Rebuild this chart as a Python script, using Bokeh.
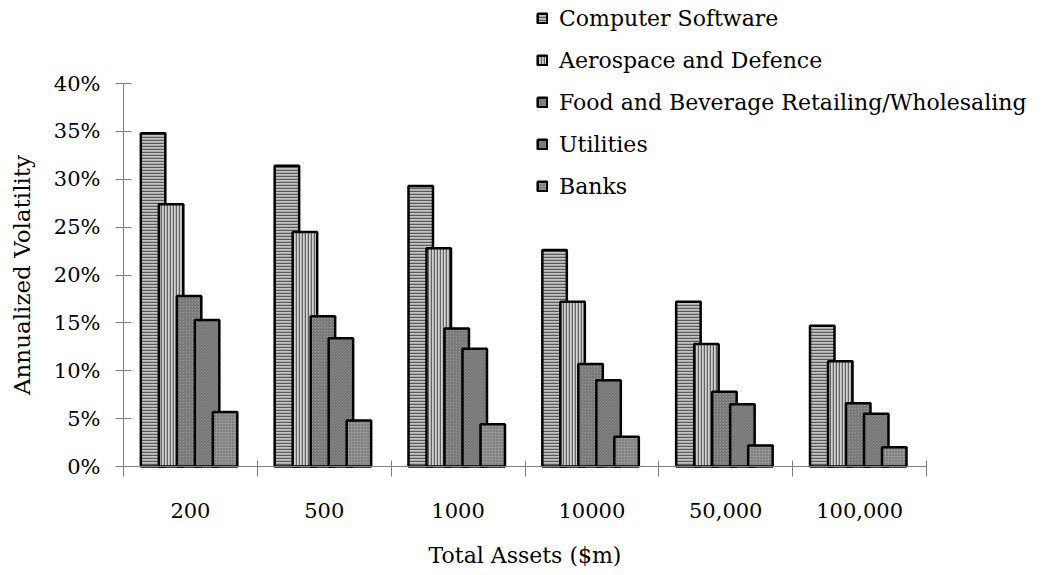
import numpy as np
from bokeh.plotting import figure
from bokeh.models import (Range1d, FixedTicker, NumeralTickFormatter, ColumnDataSource,
                          Legend, LegendItem, LinearAxis)
from bokeh.embed import file_html
from bokeh.resources import INLINE

# ---- data ----
categories = ["200", "500", "1000", "10000", "50,000", "100,000"]
series = ["Computer Software", "Aerospace and Defence",
          "Food and Beverage Retailing/Wholesaling", "Utilities", "Banks"]
computer_software = [34.8, 31.4, 29.3, 22.6, 17.2, 14.7]
aerospace_defence = [27.4, 24.5, 22.8, 17.2, 12.8, 11.0]
food_beverage = [17.8, 15.7, 14.4, 10.7, 7.8, 6.6]
utilities = [15.3, 13.4, 12.3, 9.0, 6.5, 5.5]
banks = [5.7, 4.8, 4.4, 3.1, 2.2, 2.0]
y_ticks = [0, 0.05, 0.10, 0.15, 0.20, 0.25, 0.30, 0.35, 0.40]

values = [computer_software, aerospace_defence, food_beverage, utilities, banks]

FONT = "DejaVu Serif"

styles = [
    dict(fill_color="#c4c4c4", hatch_pattern="horizontal_line", hatch_color="#5a5a5a", hatch_scale=3, hatch_weight=1.5),
    dict(fill_color="#d0d0d0", hatch_pattern="vertical_line", hatch_color="#646464", hatch_scale=3, hatch_weight=1.5),
    dict(fill_color="#969696", hatch_pattern="right_diagonal_line", hatch_color="#6a6a6a", hatch_scale=3, hatch_weight=1),
    dict(fill_color="#969696", hatch_pattern="left_diagonal_line", hatch_color="#6a6a6a", hatch_scale=3, hatch_weight=1),
    dict(fill_color="#969696", hatch_pattern="dot", hatch_color="#5a5a5a", hatch_scale=3, hatch_weight=1),
]

n = len(categories)
W, H = 1060, 575
x0_px, y0_px = 123, 466          # where x=0 / y=0 sit in the canvas
px_per_cat = 803.0 / n
px_per_unit_y = 383.0 / 0.40
x_start = -x0_px / px_per_cat
x_end = (W - x0_px) / px_per_cat
y_start = -(H - y0_px) / px_per_unit_y
y_end = y0_px / px_per_unit_y

p = figure(width=W, height=H, output_backend="svg", toolbar_location=None,
           x_range=Range1d(x_start, x_end), y_range=Range1d(y_start, y_end),
           min_border_left=0, min_border_right=0, min_border_top=0, min_border_bottom=0,
           x_axis_type=None, y_axis_type=None)
p.outline_line_color = None
p.xgrid.visible = False
p.ygrid.visible = False
p.background_fill_color = "white"

step = 0.1345
width = 0.183
centers = np.arange(n) + 0.5
items = []
for j, (name, vals) in enumerate(zip(series, values)):
    xs = centers + (j - 2) * step - 0.01
    src = ColumnDataSource(dict(x=xs, top=np.array(vals) / 100.0))
    r = p.vbar(x="x", top="top", bottom=0, width=width, source=src,
               line_color="black", line_width=2.5, **styles[j])
    items.append(LegendItem(label=name, renderers=[r]))

# y axis
yax = LinearAxis(ticker=FixedTicker(ticks=y_ticks, minor_ticks=[]),
                 formatter=NumeralTickFormatter(format="0%"),
                 bounds=(0, 0.40), fixed_location=0)
yax.axis_line_color = "#808080"
yax.major_tick_line_color = "#808080"
yax.major_tick_in = 8
yax.major_tick_out = 8
yax.major_label_standoff = 15
yax.major_label_text_font = FONT
yax.major_label_text_font_size = "21px"
yax.major_label_text_color = "black"
yax.axis_label = "Annualized Volatility"
yax.axis_label_text_font = FONT
yax.axis_label_text_font_size = "23px"
yax.axis_label_text_font_style = "normal"
yax.axis_label_text_color = "black"
yax.axis_label_standoff = 16
p.add_layout(yax, "left")

# x axis
xax = LinearAxis(ticker=FixedTicker(ticks=list(centers), minor_ticks=list(range(n + 1))),
                 bounds=(0, n), fixed_location=0)
xax.major_label_overrides = {float(c): lab for c, lab in zip(centers, categories)}
xax.axis_line_color = "#808080"
xax.major_tick_in = 0
xax.major_tick_out = 0
xax.minor_tick_line_color = "#808080"
xax.minor_tick_in = 6
xax.minor_tick_out = 10
xax.major_label_standoff = 26
xax.major_label_text_font = FONT
xax.major_label_text_font_size = "21px"
xax.major_label_text_color = "black"
xax.axis_label = "Total Assets ($m)"
xax.axis_label_text_font = FONT
xax.axis_label_text_font_size = "22px"
xax.axis_label_text_font_style = "normal"
xax.axis_label_text_color = "black"
xax.axis_label_standoff = 22
p.add_layout(xax, "below")

label_h, spacing = 26, 16
legend_h = 5 * label_h + 4 * spacing
legend_top = 5
legend = Legend(items=items, location=(536, H - legend_top - legend_h),
                glyph_width=12, glyph_height=12, label_height=label_h, spacing=spacing,
                padding=0, margin=0, label_standoff=11,
                label_text_font=FONT, label_text_font_size="22px", label_text_color="black",
                border_line_color=None, background_fill_alpha=0)
p.add_layout(legend, "center")

open("out.html", "w").write(file_html(p, INLINE))
